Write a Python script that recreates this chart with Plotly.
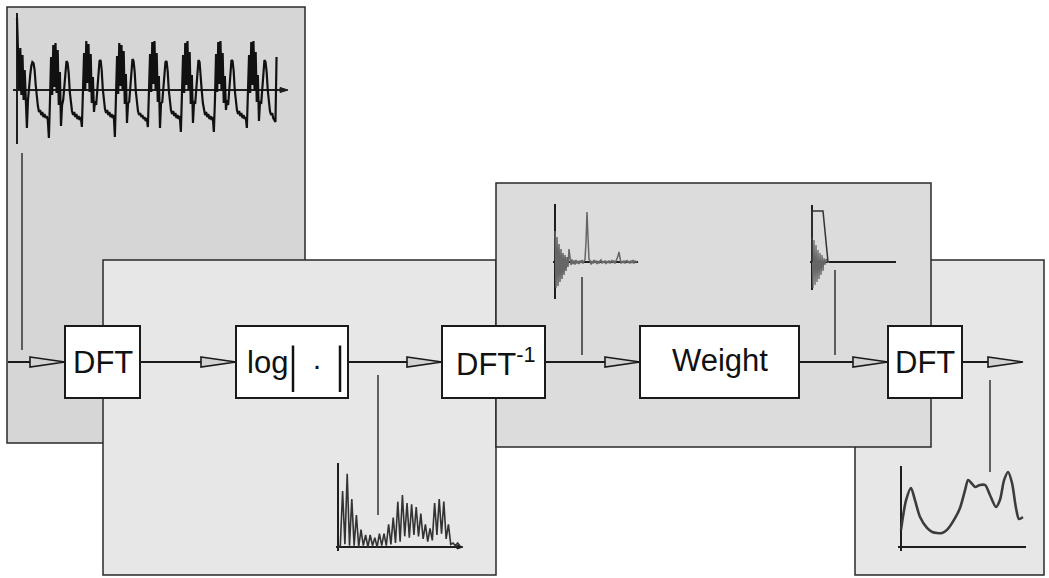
import plotly.graph_objects as go

W, H = 1049, 578

# ---------------- data ----------------
# speech waveform, amplitude (arbitrary units), uniformly sampled
speech = [
    1.44, 0.80, 0.00, 0.84, -0.10, 0.70, -0.20, 0.40, -0.40, -0.76, -0.20, 0.10, 0.30, 0.48, 0.56,
    0.54, 0.40, 0.10, -0.16, -0.32, -0.44, -0.40, -0.50, -0.44, -0.54, -0.48, -0.56, -0.52, -0.60,
    -0.96, -0.20, 0.66, -0.10, 0.90, 0.06, 0.94, -0.06, 0.80, -0.30, 0.36, -0.72, -0.30, -0.20, 0.10,
    0.44, 0.58, 0.54, 0.34, -0.04, -0.28, -0.42, -0.50, -0.44, -0.54, -0.48, -0.58, -0.52, -0.60, -0.54,
    -0.74, -0.16, 0.74, -0.02, 0.98, 0.14, 0.92, -0.04, 0.72, -0.26, 0.26, -0.44, -0.22, -0.30, 0.02,
    0.38, 0.58, 0.60, 0.40, 0.02, -0.22, -0.38, -0.46, -0.40, -0.50, -0.44, -0.54, -0.48, -0.56, -0.50,
    -0.94, -0.24, 0.68, -0.08, 0.94, 0.08, 0.90, -0.02, 0.78, -0.28, 0.32, -0.66, -0.26, -0.24, 0.06,
    0.42, 0.62, 0.58, 0.36, -0.02, -0.26, -0.42, -0.50, -0.46, -0.54, -0.50, -0.58, -0.54, -0.62, -0.56,
    -0.74, -0.18, 0.72, -0.04, 0.96, 0.12, 0.98, 0.02, 0.74, -0.24, 0.28, -0.76, -0.24, -0.26, 0.04,
    0.40, 0.56, 0.58, 0.38, 0.00, -0.24, -0.40, -0.48, -0.42, -0.52, -0.46, -0.56, -0.50, -0.58, -0.52,
    -0.84, -0.22, 0.70, -0.06, 0.94, 0.10, 0.98, 0.00, 0.76, -0.28, 0.30, -0.66, -0.22, -0.28, 0.04,
    0.40, 0.60, 0.56, 0.34, -0.02, -0.26, -0.42, -0.50, -0.44, -0.54, -0.48, -0.58, -0.52, -0.60, -0.54,
    -0.84, -0.20, 0.72, -0.04, 0.96, 0.12, 0.98, -0.02, 0.74, -0.26, 0.28, -0.40, -0.20, -0.30, 0.02,
    0.38, 0.60, 0.58, 0.38, 0.00, -0.24, -0.40, -0.48, -0.42, -0.52, -0.46, -0.56, -0.50, -0.58, -0.54,
    -0.76, -0.20, 0.70, -0.06, 0.96, 0.10, 0.98, 0.00, 0.76, -0.24, 0.30, -0.62, -0.22, -0.28, 0.04,
    0.40, 0.60, 0.56, 0.36, 0.00, -0.26, -0.42, -0.50, -0.46, -0.56, -0.60, -0.64, 0.66,
]

# log magnitude spectrum (dB), uniform frequency bins
log_spec = [
    0, 1, 42, 2, 55, 1, 36, 1, 24, 0, 13, 1, 9, 0, 9, 1, 7, 0, 10, 1, 10, 1, 17, 2, 22, 3, 34,
    4, 39, 8, 33, 7, 32, 9, 30, 8, 25, 6, 17, 4, 14, 5, 33, 9, 36, 10, 34, 6, 17, 2, 3, 1, 3, 1,
]

# real cepstrum (arbitrary units), one value per quefrency sample
cepstrum = [
    0.62, -0.52, 0.50, -0.48, 0.36, -0.40, 0.26, -0.34, 0.18, -0.26, 0.14, -0.18, 0.10, -0.10,
    0.26, 0.04, -0.06, 0.05, -0.04, 0.03, -0.05, 0.04, -0.03, 0.02, -0.04, 0.03, -0.02, 0.04,
    -0.03, 0.02, 0.05, 0.40, 1.00, 0.50, 0.05, 0.03, -0.05, 0.02, -0.03, 0.04, -0.02, 0.03,
    -0.04, 0.02, -0.03, 0.02, 0.04, -0.03, 0.02, -0.02, 0.03, -0.04, 0.02, -0.02, 0.03, -0.03,
    0.02, 0.04, -0.02, 0.03, -0.03, 0.02, 0.05, 0.12, 0.20, 0.06, -0.03, 0.02, -0.02, 0.03,
    -0.03, 0.02, 0.03, -0.02, 0.02, -0.03, 0.03, -0.02, 0.04, -0.03, 0.02, 0.01, 0.00,
]

# weighted (liftered) cepstrum and the lifter window outline
weighted_cep = [0.50, -0.52, 0.44, -0.46, 0.34, -0.40, 0.24, -0.34, 0.18, -0.26, 0.14, -0.18,
                0.08, -0.06, 0.06, 0.01, -0.01, 0.00]
lifter_q = [0, 0, 11, 16]
lifter_w = [0, 1.02, 1.02, 0]

# smoothed spectral envelope
env_freq_khz = [0.00, 0.17, 0.33, 0.46, 0.63, 0.86, 1.03, 1.36, 1.52, 1.79, 1.95, 2.12, 2.22,
                2.35, 2.45, 2.61, 2.78, 2.94, 3.14, 3.27, 3.41, 3.54, 3.67, 3.80, 3.90, 4.03]
env_db = [12.8, 35.3, 44.3, 35.3, 22.5, 14.3, 11.3, 10.5, 12.8, 21.8, 29.3, 42.8, 50.3,
          47.3, 45.0, 46.5, 46.5, 39.0, 30.0, 35.3, 50.3, 56.3, 48.0, 29.3, 21.0, 22.5]

block_labels = ["DFT", "log", "DFT<sup>-1</sup>", "Weight", "DFT"]

# ---------------- helpers (pixel -> paper) ----------------
def X(p):
    return p / W

def Y(p):
    return 1 - p / H

shapes = []

def rect(x0, y0, x1, y1, fill, lw=1.5, lc="#2a2a2a"):
    shapes.append(dict(type="rect", xref="paper", yref="paper", x0=X(x0), x1=X(x1),
                       y0=Y(y1), y1=Y(y0), fillcolor=fill, line=dict(color=lc, width=lw),
                       layer="below"))

def seg(x0, y0, x1, y1, lw=1.5, lc="#333333"):
    shapes.append(dict(type="line", xref="paper", yref="paper", x0=X(x0), x1=X(x1),
                       y0=Y(y0), y1=Y(y1), line=dict(color=lc, width=lw), layer="below"))

def arrowhead(tip, y, length=35, half=5, lw=1.6, fill="#d2d2d2"):
    path = (f"M {X(tip - length)},{Y(y - half)} L {X(tip)},{Y(y)} "
            f"L {X(tip - length)},{Y(y + half)} Z")
    shapes.append(dict(type="path", xref="paper", yref="paper", path=path, fillcolor=fill,
                       line=dict(color="#1a1a1a", width=lw), layer="below"))

# background panels
rect(7, 7, 305, 443, "#d6d6d6")
rect(103, 260, 496, 575, "#e7e7e7")
rect(855, 260, 1044, 575, "#e7e7e7")
rect(496, 183, 931, 447, "#dcdcdc")

# main signal path
SY = 362
seg(8, SY, 1022, SY, lw=2, lc="#1a1a1a")

# connector lines from the small plots to the signal path
seg(22, 153, 22, 350)
seg(378, 375, 378, 515)
seg(582, 277, 582, 355)
seg(835, 270, 835, 355)
seg(990, 380, 990, 472)

# processing blocks
boxes = [(65, 140), (236, 348), (442, 545), (640, 799), (888, 962)]
for (bx0, bx1) in boxes:
    rect(bx0, 326, bx1, 398, "#ffffff", lw=2, lc="#1a1a1a")

# arrowheads
for tip in [65, 236, 442, 640, 888, 1023]:
    arrowhead(tip, SY)

# small arrows at axis ends
arrowhead(288, 90, length=8, half=2.5, lw=1, fill="#222")
arrowhead(463, 547, length=6, half=2, lw=1, fill="#222")

fig = go.Figure()

# time signal
fig.add_trace(go.Scatter(x=list(range(len(speech))), y=speech, mode="lines",
                         line=dict(color="#111111", width=2.2), xaxis="x", yaxis="y"))
# log spectrum
fig.add_trace(go.Scatter(x=list(range(len(log_spec))), y=log_spec, mode="lines",
                         line=dict(color="#333333", width=1.6), xaxis="x2", yaxis="y2"))
# cepstrum
fig.add_trace(go.Scatter(x=list(range(len(cepstrum))), y=cepstrum, mode="lines",
                         line=dict(color="#666666", width=1.5), xaxis="x3", yaxis="y3"))
# weighted cepstrum
fig.add_trace(go.Scatter(x=list(range(len(weighted_cep))), y=weighted_cep, mode="lines",
                         fill="tozeroy", fillcolor="#7a7a7a",
                         line=dict(color="#666666", width=1.2), xaxis="x4", yaxis="y4"))
fig.add_trace(go.Scatter(x=lifter_q, y=lifter_w, mode="lines",
                         line=dict(color="#333333", width=1.5), xaxis="x4", yaxis="y4"))
# smoothed spectrum
fig.add_trace(go.Scatter(x=env_freq_khz, y=env_db, mode="lines",
                         line=dict(color="#3c3c3c", width=2.6, shape="spline", smoothing=0.8),
                         xaxis="x5", yaxis="y5"))

layout_axes = {}

def mini_axes(n, x0, x1, y0, y1, xr, yr):
    sfx = "" if n == 1 else str(n)
    common = dict(showgrid=False, showticklabels=False, ticks="", showline=False,
                  zeroline=True, zerolinecolor="#1e1e1e", zerolinewidth=1.6, fixedrange=True)
    layout_axes["xaxis" + sfx] = dict(domain=[X(x0), X(x1)], range=xr, anchor="y" + sfx, **common)
    layout_axes["yaxis" + sfx] = dict(domain=[Y(y1), Y(y0)], range=yr, anchor="x" + sfx, **common)

mini_axes(1, 13, 287, 13, 144, [-3.64, 245.5], [-1.08, 1.54])
mini_axes(2, 336, 462, 463, 551, [-0.87, 53.9], [-3, 63])
mini_axes(3, 553, 638, 204, 299, [-2, 83], [-0.74, 1.16])
mini_axes(4, 810, 896, 205, 290, [-2, 84], [-0.56, 1.14])
mini_axes(5, 898, 1026, 466, 551, [-0.099, 4.132], [-3, 60.75])

FONT = "Liberation Sans, Arial, sans-serif"
annotations = []

def label(text, x, y, size=31, family=FONT):
    annotations.append(dict(text=text, x=X(x), y=Y(y), xref="paper", yref="paper",
                            showarrow=False, xanchor="center", yanchor="middle",
                            font=dict(family=family, size=size, color="#111111")))

label(block_labels[0], 102.5, 362)
label(block_labels[1], 267, 362)
label("|", 293, 364, size=50, family="Liberation Serif, serif")
label("·", 317, 364, size=30)
label("|", 340, 364, size=50, family="Liberation Serif, serif")
label(block_labels[2], 496, 362)
label(block_labels[3], 720, 360)
label(block_labels[4], 925, 362)

fig.update_layout(
    width=W, height=H, margin=dict(l=0, r=0, t=0, b=0),
    paper_bgcolor="#ffffff", plot_bgcolor="rgba(0,0,0,0)",
    showlegend=False, shapes=shapes, annotations=annotations,
    **layout_axes,
)

fig.write_html("out.html", config={"displayModeBar": False},
               post_script="document.body.style.margin='0';")
